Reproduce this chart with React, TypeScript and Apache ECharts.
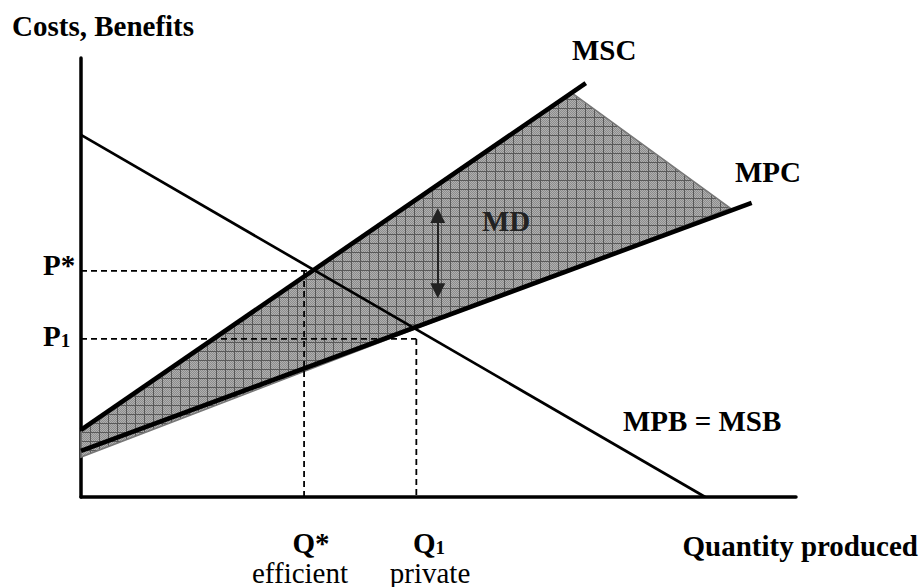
import React, { useEffect, useRef } from "react";
import * as echarts from "echarts";

// Abstract axis ranges (quantity produced, costs/benefits)
const X_RANGE = [0, 100];
const Y_RANGE = [0, 100];

// Curves as [quantity, cost] points
const MPB_MSB = [[0, 82.5], [87.3, 0]];
const MSC = [[0, 15.3], [70.6, 94.3]];
const MPC = [[0, 10.5], [93.8, 67.0]];

// Shaded marginal damage region
const MD_AREA = [[0, 14.8], [68.7, 92.0], [90.8, 65.8], [0, 9.1]];

// Equilibrium guides
const P_STAR = 51.5;
const Q_STAR = 31.2;
const P_STAR_END = 32.4;
const P_ONE = 36.0;
const Q_ONE = 46.9;

// Marginal damage arrow (x, y from, y to)
const MD_ARROW = [49.9, 64.1, 47.0];

const FONT = '"Times New Roman", "Liberation Serif", serif';
const FS = 29;

function makeHatch() {
  const c = document.createElement("canvas");
  c.width = 9;
  c.height = 9;
  const g = c.getContext("2d")!;
  for (let i = 0; i < 9; i++) {
    for (let j = 0; j < 9; j++) {
      g.fillStyle = (i + j) % 2 ? "#8c8c8c" : "#b0b0b0";
      g.fillRect(i, j, 1, 1);
    }
  }
  g.fillStyle = "#595959";
  g.fillRect(0, 0, 9, 1);
  g.fillRect(0, 0, 1, 9);
  return { image: c, repeat: "repeat", imageWidth: 9, imageHeight: 9 } as any;
}

function lineSeries(name: string, data: number[][], width: number, dashed = false, z = 3) {
  return {
    name,
    type: "line",
    data,
    symbol: "none",
    silent: true,
    z,
    lineStyle: {
      color: "#000",
      width,
      type: dashed ? [6, 4] : "solid",
    },
  };
}

function txt(text: string, x: number, y: number, align: string, bold = true, fill = "#000", rich?: any) {
  return {
    type: "text",
    x,
    y,
    z: 100,
    zlevel: 0,
    silent: true,
    style: {
      text,
      fill,
      font: `${bold ? "bold " : ""}${FS}px ${FONT}`,
      align,
      verticalAlign: "middle",
      rich,
    },
  };
}

const subRich = {
  m: { font: `bold ${FS}px ${FONT}`, lineHeight: FS, fill: "#000" },
  s: { font: `bold 19px ${FONT}`, lineHeight: 19, verticalAlign: "bottom", fill: "#000" },
};

export default function App() {
  const ref = useRef<HTMLDivElement>(null);
  useEffect(() => {
    document.body.style.margin = "0";
    const chart = echarts.init(ref.current!, null, { renderer: "svg" });
    const hatch = makeHatch();
    const axisCommon = {
      type: "value",
      axisLine: { show: true, onZero: false, lineStyle: { color: "#000", width: 3.5 } },
      axisTick: { show: false },
      axisLabel: { show: false },
      splitLine: { show: false },
    };
    chart.setOption({
      animation: false,
      grid: { left: 81, top: 58, right: 127, bottom: 90 },
      xAxis: { ...axisCommon, min: X_RANGE[0], max: X_RANGE[1] },
      yAxis: { ...axisCommon, min: Y_RANGE[0], max: Y_RANGE[1] },
      series: [
        {
          name: "MD area",
          type: "custom",
          silent: true,
          z: 1,
          data: [0],
          renderItem: (_params: any, api: any) => ({
            type: "polygon",
            shape: { points: MD_AREA.map((p) => api.coord(p)) },
            style: { fill: hatch, stroke: "#777", lineWidth: 1.5 },
          }),
        },
        lineSeries("P* guide", [[0, P_STAR], [P_STAR_END, P_STAR]], 1.8, true, 2),
        lineSeries("Q* guide", [[Q_STAR, P_STAR], [Q_STAR, 0]], 1.8, true, 2),
        lineSeries("P1 guide", [[0, P_ONE], [Q_ONE, P_ONE]], 1.8, true, 2),
        lineSeries("Q1 guide", [[Q_ONE, P_ONE], [Q_ONE, 0]], 1.8, true, 2),
        lineSeries("MPB = MSB", MPB_MSB, 2.7),
        lineSeries("MSC", MSC, 4.6),
        lineSeries("MPC", MPC, 4.6),
        {
          name: "MD arrow",
          type: "line",
          data: [],
          silent: true,
          z: 4,
          markLine: {
            silent: true,
            symbol: ["triangle", "triangle"],
            symbolSize: [15, 15],
            label: { show: false },
            lineStyle: { color: "#222", width: 2, type: "solid" },
            data: [[{ coord: [MD_ARROW[0], MD_ARROW[1]] }, { coord: [MD_ARROW[0], MD_ARROW[2]] }]],
          },
        },
      ],
      graphic: {
        elements: [
          txt("Costs, Benefits", 12, 25.5, "left"),
          txt("MSC", 572, 49.5, "left"),
          txt("MPC", 735, 171.5, "left"),
          txt("MD", 482, 220.5, "left", true, "#222"),
          txt("MPB = MSB", 623, 420.5, "left"),
          txt("Quantity produced", 918, 546, "right"),
          txt("P*", 43, 265, "left"),
          txt("{m|P}{s|1}", 43, 335.5, "left", true, "#000", subRich),
          txt("Q*", 311, 542.5, "center"),
          txt("{m|Q}{s|1}", 413, 542.5, "left", true, "#000", subRich),
          txt("efficient", 300, 572.5, "center", false),
          txt("private", 430, 572.5, "center", false),
        ],
      },
    });
    return () => chart.dispose();
  }, []);
  return (
    <div
      ref={ref}
      style={{ position: "absolute", left: 0, top: 0, width: 923, height: 587 }}
    />
  );
}
